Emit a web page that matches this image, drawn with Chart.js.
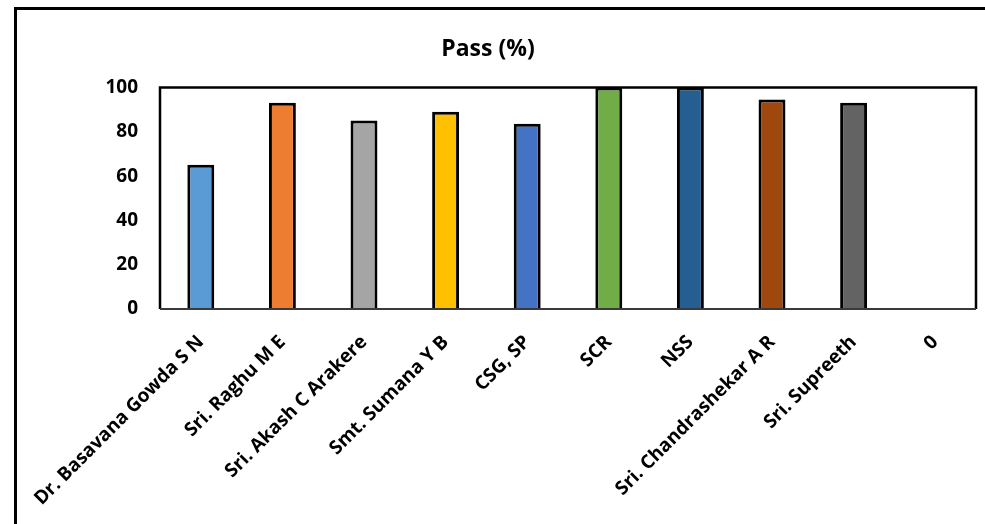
<!DOCTYPE html>
<html>
<head>
<meta charset="utf-8">
<script src="https://cdn.jsdelivr.net/npm/chart.js@4.4.1/dist/chart.umd.min.js"></script>
<style>
  html, body { margin: 0; padding: 0; background: #ffffff; }
  #wrap { position: relative; width: 985px; height: 524px; }
</style>
</head>
<body>
<div id="wrap"><canvas id="c" width="985" height="524"></canvas></div>
<script>
const categories = [
  "Dr. Basavana Gowda S N",
  "Sri. Raghu M E",
  "Sri. Akash C Arakere",
  "Smt. Sumana Y B",
  "CSG, SP",
  "SCR",
  "NSS",
  "Sri. Chandrashekar A R",
  "Sri. Supreeth",
  "0"
];
const passPercent = [65.2, 93.2, 85.1, 89.1, 83.7, 100, 100, 94.6, 93.2, 0];
const barColors = ["#5B9BD5", "#ED7D31", "#A5A5A5", "#FFC000", "#4472C4", "#70AD47", "#255E91", "#9E480E", "#636363", "#997300"];
const yTicks = [0, 20, 40, 60, 80, 100];
const chartTitle = "Pass (%)";

const FONT = "'Open Sans', 'DejaVu Sans', sans-serif";

const framePlugin = {
  id: 'framePlugin',
  beforeDraw(chart) {
    const ctx = chart.ctx;
    ctx.save();
    ctx.fillStyle = '#ffffff';
    ctx.fillRect(0, 0, chart.width, chart.height);
    ctx.strokeStyle = '#000000';
    ctx.lineWidth = 3;
    ctx.beginPath();
    ctx.moveTo(15.5, chart.height + 5);
    ctx.lineTo(15.5, 8.5);
    ctx.lineTo(chart.width + 5, 8.5);
    ctx.stroke();
    ctx.restore();
  },
  afterDatasetsDraw(chart) {
    const a = chart.chartArea;
    const ctx = chart.ctx;
    ctx.save();
    ctx.strokeStyle = '#000000';
    ctx.lineWidth = 2.5;
    ctx.beginPath();
    ctx.moveTo(a.left, a.bottom);
    ctx.lineTo(a.left, a.top);
    ctx.lineTo(a.right, a.top);
    ctx.lineTo(a.right, a.bottom);
    ctx.stroke();
    ctx.strokeStyle = '#3a3a3a';
    ctx.lineWidth = 2;
    ctx.beginPath();
    ctx.moveTo(a.left, a.bottom);
    ctx.lineTo(a.right, a.bottom);
    ctx.stroke();
    ctx.restore();
  }
};

new Chart(document.getElementById('c'), {
  type: 'bar',
  data: {
    labels: categories,
    datasets: [{
      label: chartTitle,
      data: passPercent,
      backgroundColor: barColors,
      borderColor: '#000000',
      borderWidth: 3,
      borderSkipped: 'bottom',
      categoryPercentage: 1.0,
      barPercentage: 0.33
    }]
  },
  options: {
    responsive: false,
    animation: false,
    devicePixelRatio: 1,
    layout: { padding: { top: 27, right: 9, left: 0, bottom: 0 } },
    plugins: {
      legend: { display: false },
      tooltip: { enabled: false },
      title: {
        display: true,
        text: chartTitle,
        color: '#000000',
        font: { family: FONT, size: 23, weight: 'bold' },
        padding: { top: 9, bottom: 24 }
      }
    },
    scales: {
      x: {
        grid: { display: false, drawTicks: false },
        border: { display: false },
        ticks: {
          color: '#000000',
          font: { family: FONT, size: 19, weight: 'bold' },
          minRotation: 45,
          maxRotation: 45,
          autoSkip: false,
          padding: 22
        },
        afterFit(scale) { scale.height = 215; }
      },
      y: {
        min: 0,
        max: 100,
        grid: { display: false, drawTicks: false },
        border: { display: false },
        afterBuildTicks(scale) { scale.ticks = yTicks.map(v => ({ value: v })); },
        ticks: {
          color: '#000000',
          font: { family: FONT, size: 19, weight: 'bold' },
          padding: 22
        },
        afterFit(scale) { scale.width = 160; }
      }
    }
  },
  plugins: [framePlugin]
});
</script>
</body>
</html>
